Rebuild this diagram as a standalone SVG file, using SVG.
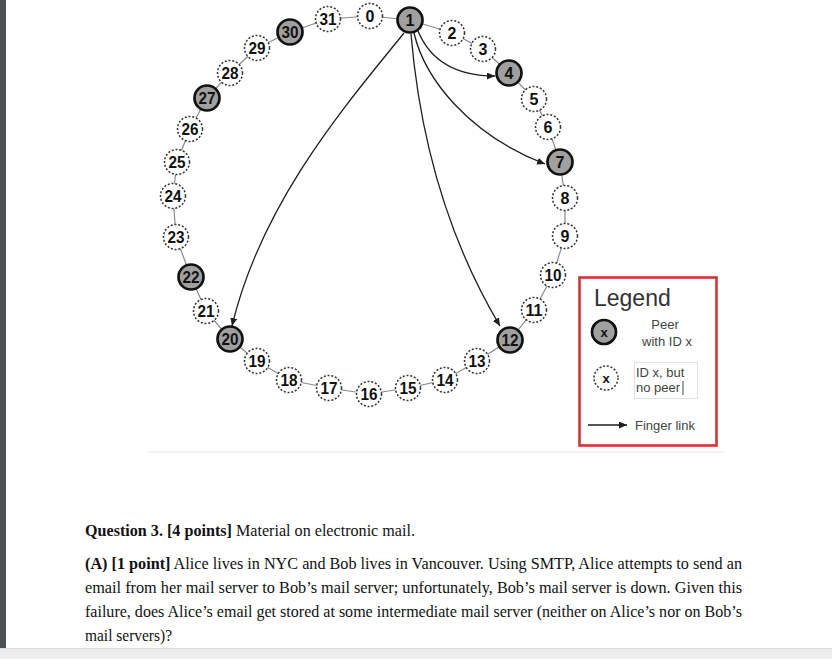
<svg xmlns="http://www.w3.org/2000/svg" width="832" height="659" viewBox="0 0 832 659">
<style>
.ring{stroke:#8a8a8a;stroke-width:1.2;fill:none}
.finger{stroke:#1e1e1e;stroke-width:1.3;fill:none}
.peer circle{fill:#a0a0a0;stroke:#111;stroke-width:2.7}
.nop circle{fill:#fff;stroke:#333;stroke-width:1.5;stroke-dasharray:2 1.8}
.peer text,.nop text{font-family:"Liberation Sans",Arial,sans-serif;font-weight:bold;font-size:16px;fill:#111;text-anchor:middle}
.lg{font-family:"Liberation Sans",Arial,sans-serif;fill:#444;font-size:13px}
.q{font-family:"Liberation Serif","Times New Roman",serif;font-size:17px;fill:#111}
.b{font-weight:bold}
</style>
<defs>
<marker id="ah" markerUnits="userSpaceOnUse" markerWidth="9" markerHeight="8" refX="8" refY="3.5" orient="auto">
<path d="M0,0 L8,3.5 L0,7 z" fill="#1e1e1e"/>
</marker>
</defs>
<rect x="0" y="0" width="832" height="659" fill="#fff"/>
<rect x="0" y="0" width="6" height="659" fill="#4d5053"/>
<rect x="0" y="648" width="832" height="11" fill="#ededed"/>
<line x1="0" y1="648.5" x2="832" y2="648.5" stroke="#dcdcdc"/>
<line x1="148" y1="452" x2="724" y2="452" stroke="#eeeeee" stroke-width="1.5"/>

<g id="connectors">
<polyline class="ring" points="370,16 410,20 452,33 483,49 509,73 534,99 548,127 560,162 565,198 565,236 553,275 534,310 510,340 477,361 445,380 408,388 369,394 329,388 289,380 257,361 230,339 206,311 191,277 176,237 173,196 177,162 190,129 207,98 230,73 257,48 290,32 328,19 370,16"/>
<path class="finger" marker-end="url(#ah)" d="M418 31 C430 60, 455 76, 495 76"/>
<path class="finger" marker-end="url(#ah)" d="M414 33 C425 80, 470 135, 545 164"/>
<path class="finger" marker-end="url(#ah)" d="M411 34 Q425 200 500 326"/>
<path class="finger" marker-end="url(#ah)" d="M404 33 C350 100, 262 200, 232 326"/>
</g>

<g id="n0" class="nop"><circle cx="370" cy="16" r="12.5"/><text x="370" y="22">0</text></g>
<g id="n1" class="peer"><circle cx="410" cy="20" r="12.5"/><text x="410" y="26">1</text></g>
<g id="n2" class="nop"><circle cx="452" cy="33" r="12.5"/><text x="452" y="39">2</text></g>
<g id="n3" class="nop"><circle cx="483" cy="49" r="12.5"/><text x="483" y="55">3</text></g>
<g id="n4" class="peer"><circle cx="509" cy="73" r="12.5"/><text x="509" y="79">4</text></g>
<g id="n5" class="nop"><circle cx="534" cy="99" r="12.5"/><text x="534" y="105">5</text></g>
<g id="n6" class="nop"><circle cx="548" cy="127" r="12.5"/><text x="548" y="133">6</text></g>
<g id="n7" class="peer"><circle cx="560" cy="162" r="12.5"/><text x="560" y="168">7</text></g>
<g id="n8" class="nop"><circle cx="565" cy="198" r="12.5"/><text x="565" y="204">8</text></g>
<g id="n9" class="nop"><circle cx="565" cy="236" r="12.5"/><text x="565" y="242">9</text></g>
<g id="n10" class="nop"><circle cx="553" cy="275" r="12.5"/><text x="553" y="281" textLength="17" lengthAdjust="spacingAndGlyphs">10</text></g>
<g id="n11" class="nop"><circle cx="534" cy="310" r="12.5"/><text x="534" y="316" textLength="17" lengthAdjust="spacingAndGlyphs">11</text></g>
<g id="n12" class="peer"><circle cx="510" cy="340" r="12.5"/><text x="510" y="346" textLength="17" lengthAdjust="spacingAndGlyphs">12</text></g>
<g id="n13" class="nop"><circle cx="477" cy="361" r="12.5"/><text x="477" y="367" textLength="17" lengthAdjust="spacingAndGlyphs">13</text></g>
<g id="n14" class="nop"><circle cx="445" cy="380" r="12.5"/><text x="445" y="386" textLength="17" lengthAdjust="spacingAndGlyphs">14</text></g>
<g id="n15" class="nop"><circle cx="408" cy="388" r="12.5"/><text x="408" y="394" textLength="17" lengthAdjust="spacingAndGlyphs">15</text></g>
<g id="n16" class="nop"><circle cx="369" cy="394" r="12.5"/><text x="369" y="400" textLength="17" lengthAdjust="spacingAndGlyphs">16</text></g>
<g id="n17" class="nop"><circle cx="329" cy="388" r="12.5"/><text x="329" y="394" textLength="17" lengthAdjust="spacingAndGlyphs">17</text></g>
<g id="n18" class="nop"><circle cx="289" cy="380" r="12.5"/><text x="289" y="386" textLength="17" lengthAdjust="spacingAndGlyphs">18</text></g>
<g id="n19" class="nop"><circle cx="257" cy="361" r="12.5"/><text x="257" y="367" textLength="17" lengthAdjust="spacingAndGlyphs">19</text></g>
<g id="n20" class="peer"><circle cx="230" cy="339" r="12.5"/><text x="230" y="345" textLength="17" lengthAdjust="spacingAndGlyphs">20</text></g>
<g id="n21" class="nop"><circle cx="206" cy="311" r="12.5"/><text x="206" y="317" textLength="17" lengthAdjust="spacingAndGlyphs">21</text></g>
<g id="n22" class="peer"><circle cx="191" cy="277" r="12.5"/><text x="191" y="283" textLength="17" lengthAdjust="spacingAndGlyphs">22</text></g>
<g id="n23" class="nop"><circle cx="176" cy="237" r="12.5"/><text x="176" y="243" textLength="17" lengthAdjust="spacingAndGlyphs">23</text></g>
<g id="n24" class="nop"><circle cx="173" cy="196" r="12.5"/><text x="173" y="202" textLength="17" lengthAdjust="spacingAndGlyphs">24</text></g>
<g id="n25" class="nop"><circle cx="177" cy="162" r="12.5"/><text x="177" y="168" textLength="17" lengthAdjust="spacingAndGlyphs">25</text></g>
<g id="n26" class="nop"><circle cx="190" cy="129" r="12.5"/><text x="190" y="135" textLength="17" lengthAdjust="spacingAndGlyphs">26</text></g>
<g id="n27" class="peer"><circle cx="207" cy="98" r="12.5"/><text x="207" y="104" textLength="17" lengthAdjust="spacingAndGlyphs">27</text></g>
<g id="n28" class="nop"><circle cx="230" cy="73" r="12.5"/><text x="230" y="79" textLength="17" lengthAdjust="spacingAndGlyphs">28</text></g>
<g id="n29" class="nop"><circle cx="257" cy="48" r="12.5"/><text x="257" y="54" textLength="17" lengthAdjust="spacingAndGlyphs">29</text></g>
<g id="n30" class="peer"><circle cx="290" cy="32" r="12.5"/><text x="290" y="38" textLength="17" lengthAdjust="spacingAndGlyphs">30</text></g>
<g id="n31" class="nop"><circle cx="328" cy="19" r="12.5"/><text x="328" y="25" textLength="17" lengthAdjust="spacingAndGlyphs">31</text></g>

<g id="legend">
<rect x="579.5" y="277.5" width="137" height="168" fill="#fff" stroke="#cc3636" stroke-width="2.6"/>
<text x="594" y="306" font-family="'Liberation Sans',Arial,sans-serif" font-size="23" fill="#333">Legend</text>
<g id="legend-peer" class="peer"><circle cx="604" cy="332" r="12"/><text x="604" y="337" style="font-size:13px">x</text></g>
<text class="lg" x="665" y="329" text-anchor="middle">Peer</text>
<text class="lg" x="667" y="346" text-anchor="middle">with ID x</text>
<g id="legend-nopeer" class="nop"><circle cx="606" cy="378" r="12"/><text x="606" y="383" style="font-size:13px">x</text></g>
<rect x="634.5" y="362.5" width="63" height="36" fill="none" stroke="#e2e2e2"/>
<text class="lg" x="636" y="377">ID x, but</text>
<text class="lg" x="636" y="392">no peer</text>
<line x1="683" y1="381" x2="683" y2="395" stroke="#444" stroke-width="1"/>
<line class="finger" x1="588" y1="425" x2="627" y2="425" marker-end="url(#ah)"/>
<text class="lg" x="635" y="430">Finger link</text>
</g>

<g id="question">
<text class="q" x="85" y="536" textLength="330" lengthAdjust="spacingAndGlyphs"><tspan class="b">Question 3. [4 points]</tspan>  Material on electronic mail.</text>
<text class="q" x="85" y="569" textLength="657" lengthAdjust="spacingAndGlyphs"><tspan class="b">(A) [1 point]</tspan> Alice lives in NYC and Bob lives in Vancouver. Using SMTP, Alice attempts to send an</text>
<text class="q" x="85" y="593" textLength="657" lengthAdjust="spacingAndGlyphs">email from her mail server to Bob’s mail server; unfortunately, Bob’s mail server is down. Given this</text>
<text class="q" x="85" y="617" textLength="657" lengthAdjust="spacingAndGlyphs">failure, does Alice’s email get stored at some intermediate mail server (neither on Alice’s nor on Bob’s</text>
<text class="q" x="85" y="641" textLength="87" lengthAdjust="spacingAndGlyphs">mail servers)?</text>
</g>
</svg>
